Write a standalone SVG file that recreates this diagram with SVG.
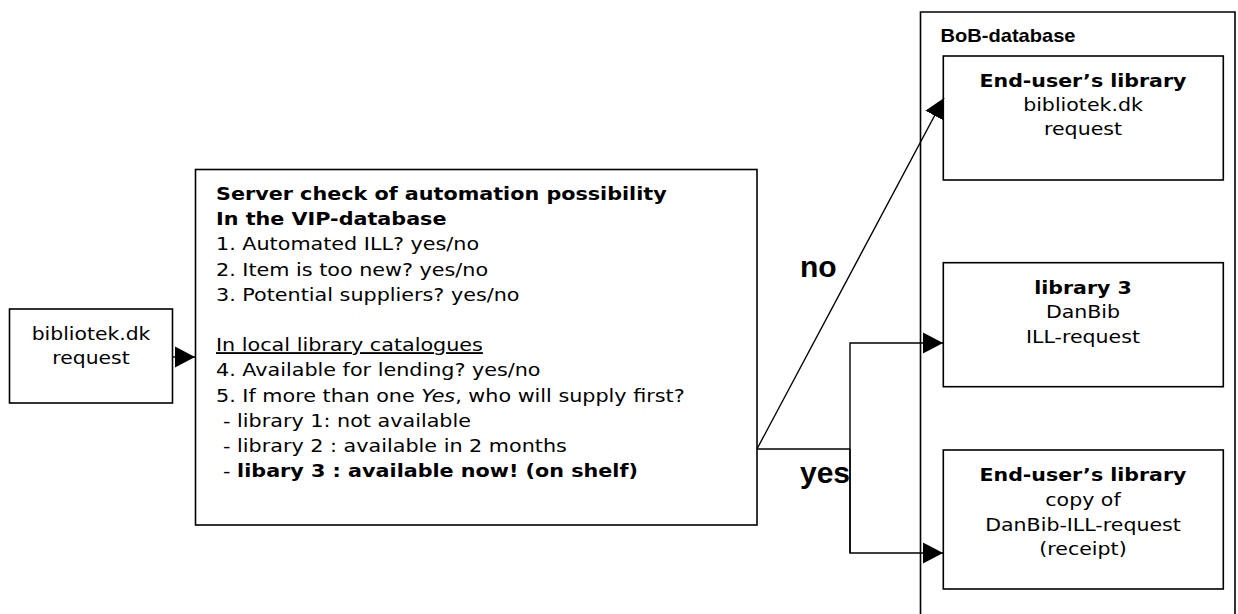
<svg xmlns="http://www.w3.org/2000/svg" width="1238" height="614" viewBox="0 0 1238 614">
<style>
.box{fill:#fff;stroke:#000;stroke-width:1.6}
.con{fill:none;stroke:#000;stroke-width:1.4}
.t{font-family:"DejaVu Sans","Verdana",sans-serif;font-size:18.5px;fill:#000}
.b{font-weight:bold}
.lbl{font-family:"Liberation Sans",Arial,sans-serif;font-weight:bold;font-size:30px;fill:#000}
.db{font-family:"Liberation Sans",Arial,sans-serif;font-weight:bold;font-size:19px;fill:#000}
</style>
<defs>
<marker id="arr" markerUnits="userSpaceOnUse" markerWidth="21" markerHeight="22" refX="20" refY="10.5" orient="auto" viewBox="0 0 21 21">
<path d="M0,0 L20,10.5 L0,21 z" fill="#000"/>
</marker>
</defs>

<g id="bob-database">
<path d="M920.5,620 V12 H1235 V620" class="box"/>
<text class="db" x="940.5" y="41.5" textLength="135" lengthAdjust="spacingAndGlyphs">BoB-database</text>
</g>

<g id="request-box">
<rect class="box" x="9.5" y="309" width="163" height="94"/>
<g transform="translate(91,0) scale(1.1,1)">
<text class="t" text-anchor="middle" x="0" y="340">bibliotek.dk</text>
<text class="t" text-anchor="middle" x="0" y="364">request</text>
</g>
</g>

<g id="server-check">
<rect class="box" x="195.5" y="169.5" width="561.5" height="355.5"/>
<g transform="translate(216,0) scale(1.12,1)">
<text class="t b" x="0" y="200">Server check of automation possibility</text>
<text class="t b" x="0" y="225.2">In the VIP-database</text>
<text class="t" x="0" y="250.4">1. Automated ILL? yes/no</text>
<text class="t" x="0" y="275.6">2. Item is too new? yes/no</text>
<text class="t" x="0" y="300.8">3. Potential suppliers? yes/no</text>
<text class="t" x="0" y="351.2" text-decoration="underline">In local library catalogues</text>
<text class="t" x="0" y="376.4">4. Available for lending? yes/no</text>
<text class="t" x="0" y="401.6">5. If more than one <tspan font-style="italic">Yes</tspan>, who will supply first?</text>
<text class="t" x="6.3" y="426.8">- library 1: not available</text>
<text class="t" x="6.3" y="452">- library 2 : available in 2 months</text>
<text class="t" x="6.3" y="477.2">- <tspan font-weight="bold">libary 3 : available now! (on shelf)</tspan></text>
</g>
</g>

<g id="enduser-request">
<rect class="box" x="943.3" y="56" width="280" height="124"/>
<g transform="translate(1083,0) scale(1.11,1)">
<text class="t b" text-anchor="middle" x="0" y="87">End-user’s library</text>
<text class="t" text-anchor="middle" x="0" y="111">bibliotek.dk</text>
<text class="t" text-anchor="middle" x="0" y="135">request</text>
</g>
</g>

<g id="library3">
<rect class="box" x="943.3" y="262.7" width="280" height="124"/>
<g transform="translate(1083,0) scale(1.11,1)">
<text class="t b" text-anchor="middle" x="0" y="294">library 3</text>
<text class="t" text-anchor="middle" x="0" y="318.5">DanBib</text>
<text class="t" text-anchor="middle" x="0" y="343.5">ILL-request</text>
</g>
</g>

<g id="enduser-receipt">
<rect class="box" x="943.3" y="450" width="280" height="139"/>
<g transform="translate(1083,0) scale(1.11,1)">
<text class="t b" text-anchor="middle" x="0" y="481">End-user’s library</text>
<text class="t" text-anchor="middle" x="0" y="506">copy of</text>
<text class="t" text-anchor="middle" x="0" y="531">DanBib-ILL-request</text>
<text class="t" text-anchor="middle" x="0" y="555">(receipt)</text>
</g>
</g>

<g id="connectors">
<line class="con" x1="172.5" y1="357" x2="195" y2="357" marker-end="url(#arr)"/>
<line class="con" x1="757" y1="449" x2="944" y2="98" marker-end="url(#arr)"/>
<polyline class="con" points="757,449 850,449"/>
<polyline class="con" points="850,553 850,343 943,343" marker-end="url(#arr)"/>
<polyline class="con" points="850,449 850,553 943,553" marker-end="url(#arr)"/>
<text class="lbl" x="800" y="277">no</text>
<text class="lbl" x="800" y="483">yes</text>
</g>
</svg>
